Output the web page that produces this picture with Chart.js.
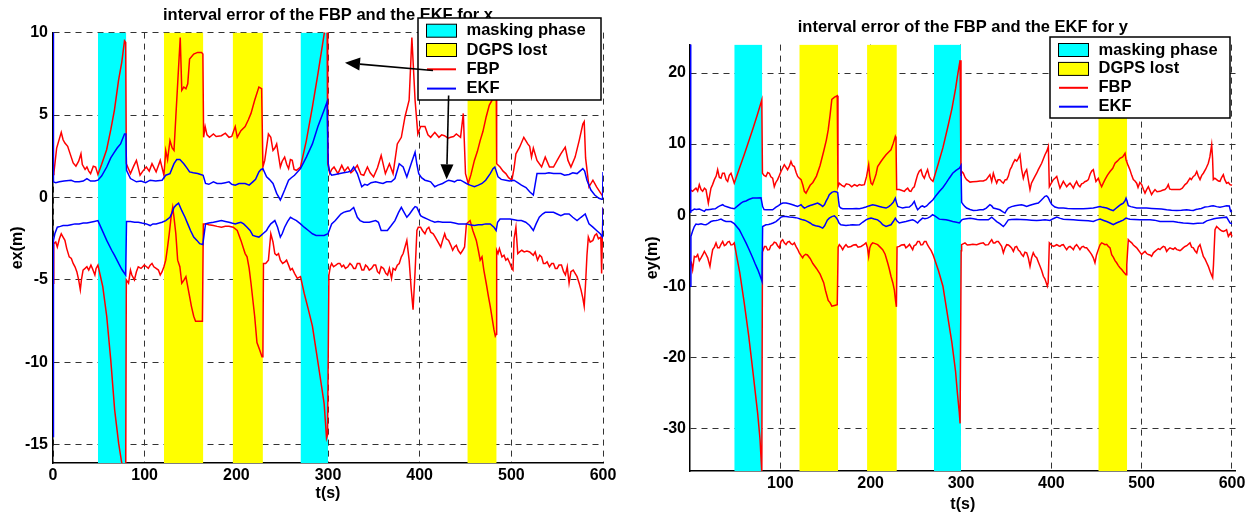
<!DOCTYPE html>
<html><head><meta charset="utf-8">
<script src="https://cdn.jsdelivr.net/npm/chart.js@4"></script>
<style>
html,body{margin:0;padding:0;background:#fff;width:1255px;height:515px;overflow:hidden}
canvas{position:absolute;top:0}
#c1{left:0}
#c2{left:628px}
</style></head><body>
<canvas id="c1" width="627" height="515"></canvas>
<canvas id="c2" width="627" height="515"></canvas>
<script>
// ---------- data ----------
const timeTicksX = [0,100,200,300,400,500,600];
const timeTicksY = [100,200,300,400,500,600];
const exTicks = [-15,-10,-5,0,5,10];
const eyTicks = [-30,-20,-10,0,10,20];
const maskingPhase = [[49,80],[270,300]];
const dgpsLost = [[121,164],[196,229],[452,484]];
const legendLabels = ['masking phase','DGPS lost','FBP','EKF'];
const titleX = 'interval error of the FBP and the EKF for x';
const titleY = 'interval error of the FBP and the EKF for y';

const xFbpUp = [[0,1.4],[1,1.5],[4,3.0],[9,3.95],[11,3.5],[13,3.3],[16,3.1],[19,2.6],[22,2.1],[25,1.9],[28,2.2],[30.5,2.65],[32,2.0],[35,1.7],[37,1.85],[39,1.6],[41,1.45],[44,1.9],[46.5,1.85],[49,1.4],
[53,2.0],[58.5,2.9],[63,4.1],[67,5.3],[71.5,7.1],[75,8.2],[78,9.5],[79.3,9.4],[80,2.05],[84.5,1.45],[88,1.9],[91,2.25],[95,1.35],[98,1.6],[101.8,1.85],[105,1.6],[108,2.05],[112.5,1.55],[117,2.25],[121,1.35],
[123,2.85],[125,2.3],[127.6,3.45],[130,3.0],[132,2.85],[134,4.9],[136,6.9],[138.8,9.7],[140.5,6.5],[142.7,6.7],[145,6.6],[147,6.9],[149,8.4],[153.5,8.7],[157.8,8.8],[162,8.8],[163.5,8.7],[164.3,3.65],
[166,4.3],[168,3.8],[170.7,3.65],[175,3.85],[178,3.7],[183.7,3.75],[188,3.9],[192,3.65],[195,3.7],[198.8,4.3],[201,3.65],[205,4.05],[209.6,4.3],[213,4.7],[216,5.1],[220,5.9],[224.6,6.7],[227.6,6.6],[229,1.85],
[231,2.25],[235,3.85],[237.6,3.65],[240,2.85],[242,3.0],[244,3.25],[248,1.85],[250,2.2],[252.7,2.45],[255,2.0],[257,1.75],[259,2.3],[261,2.25],[263,1.7],[265.6,1.65],[270,1.85],
[276.4,3.45],[283,5.5],[289,7.5],[295.8,9.9],[299,10.8],[299.7,2.05],
[302,1.45],[304,1.7],[306.6,1.85],[310.9,1.45],[315,1.95],[318,1.6],[321.7,1.85],[325,1.5],[328,1.65],[332,1.95],[336,1.4],[339,1.35],[343,1.85],[346,1.5],[349.7,1.25],[354,1.8],[358,2.55],[362.6,1.45],[367,2.05],[371,1.45],[375.6,3.25],[380,3.65],[384,4.9],[388.5,5.9],[391.5,9.7],[395,5.9],[398,3.85],[401,4.3],
[405.8,4.3],[409,3.8],[412,3.65],[416.5,3.95],[421,3.65],[424,3.8],[427,3.75],[431,3.6],[433.8,3.65],[437,3.7],[440,3.85],[444.6,3.65],[447.6,5.1],[450,1.45],
[453,0.85],[456,1.4],[459.7,2.25],[463,2.8],[466,3.45],[469,4.0],[472.6,4.9],[476,5.6],[479,5.9],[482,7.0],[483.5,6.9],[484,2.05],
[487.7,1.85],[491,1.6],[494,1.45],[497,1.2],[500.6,1.05],[503,1.8],[505,2.65],[509,3.05],[513.6,3.65],[517.9,3.25],[520,3.1],[522,2.45],[524,3.0],[528,2.25],[533,1.85],[537,2.45],[541.6,1.85],[546,1.85],[550,2.25],[554,2.65],[558.8,3.05],[561.8,2.25],[565,1.85],[569.6,2.45],[574,3.45],[578,4.45],[579.5,4.6],[581,2.4],[584.7,0.65],[589,1.05],[593,0.65],[597.6,0.25],[599.5,0.1],[600,0.0]];

const xFbpLo = [[0,-5.2],[0.8,-2.8],[3,-2.7],[4.7,-3.0],[7,-2.5],[9,-2.2],[11,-2.4],[13,-2.6],[15,-3.1],[17.7,-3.6],[20,-3.7],[22,-4.0],[24,-4.2],[26,-4.5],[28,-5.0],[29.8,-5.6],[31,-5.0],[32.8,-4.4],[35,-4.3],[37,-4.2],[39,-4.4],[41.4,-4.1],[43,-4.3],[45.7,-4.7],[47,-4.3],[49,-4.1],
[54.3,-5.4],[58.6,-7.2],[63,-9.85],[67.3,-12.9],[71.6,-14.9],[75,-16.1],[78,-17],[79.3,-17],[80,-5.0],[82.4,-5.2],[84.5,-4.4],[86,-4.7],[88.8,-5.0],[91,-4.5],[93,-4.2],[96,-4.3],[99.6,-4.1],[102,-4.2],[104,-4.3],[106,-4.1],[108,-4.0],[110,-4.2],[112.5,-4.3],[115,-4.4],[117,-4.7],[119,-4.5],[121,-4.2],
[123,-3.8],[125,-3.0],[126.8,-2.2],[128.8,-1.2],[130.6,-0.6],[132,-1.2],[134,-2.2],[136,-3.8],[138.4,-4.2],[140.5,-5.2],[143,-5.0],[145,-4.8],[147,-5.4],[149,-6.0],[151,-6.6],[153.5,-7.2],[155.5,-7.5],[157.8,-7.5],[160,-7.5],[163,-7.5],[164,-1.6],
[166.4,-1.6],[170,-1.65],[175,-1.7],[179,-1.75],[183.7,-1.8],[188,-1.75],[192,-1.75],[196.6,-1.8],[201,-2.0],[205,-2.6],[209.6,-3.4],[211.7,-3.6],[214,-4.3],[216,-5.2],[218,-6.2],[220,-7.2],[222.5,-8.8],[225.5,-9.25],[228,-9.65],[229,-9.5],[229.6,-4.0],[232,-4.0],[235,-3.8],[237.6,-2.2],[240,-2.7],[242,-3.4],[244,-3.5],[246,-3.4],[248,-3.8],[250.5,-4.0],[253,-3.9],[254.8,-3.8],[257,-4.1],[259,-4.4],[261,-4.3],[263.5,-4.6],[266.5,-4.9],[270,-4.8],
[274,-5.8],[278.6,-6.8],[283,-7.8],[287,-9.25],[291.5,-10.9],[295.8,-12.5],[298.4,-14.6],[299.5,-14.4],[301,-4.7],[302.5,-4.2],[304,-4.0],[306,-4.2],[308.6,-4.1],[311,-4.0],[313,-4.0],[315,-4.2],[317,-4.1],[319,-4.3],[321.7,-4.2],[324,-4.0],[326,-4.1],[328,-4.3],[330,-4.3],[332,-4.0],[334.6,-4.0],[337,-4.4],[339,-4.4],[341,-4.1],[343,-4.2],[345,-4.4],[347.5,-4.3],[350,-4.1],[352,-4.1],[354,-4.5],[356,-4.6],[358,-4.2],[360.6,-4.3],[363,-4.6],[365,-4.7],[367,-4.3],[369.3,-4.9],[371,-4.3],[373.4,-4.4],[375.6,-4.1],[377.7,-4.0],[380,-3.6],[382,-3.4],[384,-3.0],[386,-2.6],[388.5,-3.8],[390.7,-5.5],[392.8,-6.8],[395,-4.5],[397,-2.0],[398.5,-1.8],[401,-1.8],[403,-2.0],[405.8,-2.2],[408,-1.9],[410,-1.8],[412,-2.1],[414.8,-2.2],[417,-2.4],[419,-2.6],[421,-2.8],[423,-3.0],[425,-2.6],[427.3,-2.2],[429,-2.5],[431.6,-2.6],[434,-2.9],[436,-3.2],[438,-3.0],[440,-2.9],[442,-3.2],[444.6,-3.4],[447,-3.2],[449,-3.0],[451,-1.6],[453,-1.5],[455,-1.4],[458,-2.0],[461.8,-2.6],[464,-3.2],[466,-3.8],[468,-3.6],[470,-4.4],[472.6,-5.2],[475,-6.0],[477,-6.6],[479,-7.3],[481,-8.0],[482.5,-8.4],[483.4,-8.3],[484,-3.2],[485.5,-3.4],[487,-3.1],[489.8,-3.6],[492,-3.5],[494,-3.8],[496,-3.7],[498.5,-4.0],[500.5,-4.3],[501.8,-4.4],[503,-2.5],[505,-1.8],[507,-3.4],[509,-3.3],[511.4,-3.2],[514,-3.3],[517,-3.25],[520,-3.3],[522,-3.4],[524,-3.5],[526,-3.3],[528.6,-3.8],[531,-3.5],[533,-3.6],[535,-4.0],[537,-4.0],[539,-3.9],[541.6,-4.2],[544,-4.0],[546,-4.0],[548,-4.3],[550,-4.3],[552,-4.1],[554.7,-4.1],[557,-4.5],[559,-4.7],[561,-4.2],[563,-5.2],[565,-4.5],[567.5,-4.4],[569.6,-4.6],[571.7,-4.8],[574,-5.2],[576,-5.6],[578,-6.1],[579.5,-6.6],[581,-5.2],[582.5,-3.5],[584,-2.4],[586,-2.7],[589,-2.6],[591,-2.3],[593,-2.2],[595,-2.5],[597.6,-2.4],[598.5,-4.6],[600,-0.6]];

const xEkfUp = [[0,12],[0.5,0.95],[3,0.9],[6.9,0.95],[12,1.0],[19.8,1.05],[24,0.95],[28.5,0.95],[33,1.0],[37,1.15],[41,1.0],[45.7,1.0],[49,1.05],
[53,1.3],[58.6,1.85],[63,2.4],[67,2.75],[70,3.0],[73.7,3.25],[78,3.85],[79.5,3.85],[80.2,1.65],[84.5,1.15],[91,0.95],[96,1.0],[101,0.9],[106,1.05],[112,1.0],[119,1.05],[123,1.35],[127.6,1.45],[132,2.05],[135,2.3],[138.4,2.3],[142.7,2.05],[146,1.8],[149,1.55],[153,1.5],[157.8,1.45],[161,1.4],[163.8,1.35],[166.4,0.85],[170,0.8],[175,0.95],[179,0.85],[183.7,0.85],[188,0.9],[192,0.95],[195,0.8],[198.8,0.75],[203,0.85],[209.6,0.85],[214,0.75],[218,0.95],[221,1.1],[224.6,1.55],[227,1.7],[229,1.75],[233,1.25],[236,1.1],[240,0.85],[244,0.25],[248,-0.15],[250,0.1],[252.7,0.45],[257,1.05],[260,1.2],[263.5,1.35],[270,1.75],
[276.4,2.45],[283,3.25],[289,4.3],[295.8,5.3],[299,5.8],[300.3,2.05],[302,1.5],[304,1.35],[308,1.4],[313,1.45],[317,1.5],[321.7,1.55],[325,1.6],[328,1.85],[332,1.45],[336.8,0.65],[340,0.8],[343,0.75],[347,0.9],[352,0.95],[356,0.9],[360,0.85],[364,0.95],[369,0.95],[373,1.15],[377.7,2.05],[382,1.85],[386,1.25],[390.7,2.05],[395,2.75],[397,2.0],[399,1.45],[402,1.2],[405.8,1.05],[409,1.0],[412,0.95],[416.5,0.65],[420,0.75],[425,0.85],[428,0.95],[431.6,1.05],[435,1.0],[438,0.95],[441,1.05],[444.6,1.05],[448,0.95],[451,0.85],[455,0.75],[459.7,0.65],[464,0.75],[468,0.85],[472,1.05],[477,1.45],[480,1.75],[482,1.85],[485.5,1.25],[489,1.1],[494,1.05],[498,1.0],[502.8,1.05],[507,0.9],[511,0.75],[516,0.6],[520,0.35],[524,0.15],[528,1.45],[532,1.45],[537,1.45],[541,1.5],[546,1.45],[550,1.45],[554,1.45],[558,1.35],[563,1.4],[567,1.5],[571.7,1.45],[578,1.75],[580,1.6],[582.5,1.05],[586.8,0.45],[591,0.15],[595.5,-0.05],[598.5,-0.1],[599.5,-0.1],[600,1.55]];

const xEkfLo = [[0,-14.5],[0.5,-2.6],[2,-2.2],[4.7,-1.8],[8,-1.75],[11,-1.7],[16,-1.7],[19.8,-1.65],[24,-1.6],[28.5,-1.6],[33,-1.55],[37,-1.55],[41,-1.5],[45,-1.45],[49,-1.4],
[53,-1.9],[58.6,-2.6],[64,-3.2],[67,-3.5],[71.6,-4.0],[75,-4.35],[79.3,-4.7],[80.2,-1.45],[84.5,-1.45],[89,-1.5],[93,-1.5],[97,-1.55],[101.8,-1.6],[106,-1.7],[109,-1.6],[112.5,-1.6],[116,-1.55],[119,-1.5],[123,-1.4],[127.6,-1.2],[130,-0.9],[132,-0.6],[134.5,-0.45],[137,-0.35],[140.5,-0.8],[144,-1.2],[147,-1.6],[150,-2.0],[153.5,-2.4],[157,-2.6],[160,-2.8],[163.4,-2.85],[166.4,-1.6],[170,-1.55],[175,-1.5],[179,-1.45],[183.7,-1.4],[188,-1.45],[192,-1.5],[195,-1.55],[198.8,-1.6],[202,-1.55],[205,-1.5],[208,-1.6],[211.7,-1.8],[215,-2.0],[218,-2.3],[221,-2.35],[224.6,-2.4],[227,-2.3],[229,-2.2],[233,-2.0],[235,-1.8],[237.6,-1.6],[242,-1.4],[245,-1.8],[248,-2.4],[250,-2.2],[252.7,-1.8],[256,-1.45],[259,-1.2],[262,-1.3],[265.6,-1.4],[270,-1.6],[274,-1.8],[278.6,-2.0],[283,-2.2],[287,-2.3],[291,-2.3],[295.8,-2.3],[300,-2.2],[304,-1.6],[308,-1.4],[311,-1.2],[314,-1.0],[317,-0.9],[320,-0.85],[323.8,-0.8],[328,-0.6],[332,-1.2],[335,-1.4],[339,-1.5],[345,-1.5],[352,-1.4],[355,-1.5],[358,-2.0],[361,-2.0],[364.8,-2.0],[369,-1.7],[373,-1.4],[377,-0.9],[380,-0.6],[383,-0.9],[386,-1.2],[389,-1.0],[392.8,-0.7],[395,-0.55],[397,-0.6],[401,-1.1],[404,-1.2],[407.9,-1.3],[412,-1.4],[416.5,-1.5],[420,-1.45],[425,-1.5],[429,-1.5],[433.8,-1.5],[438,-1.55],[442.4,-1.6],[446,-1.6],[451,-1.6],[455,-1.65],[459.7,-1.7],[464,-1.65],[468,-1.65],[472,-1.6],[477,-1.6],[481,-1.8],[483.4,-2.0],[485,-1.5],[487.7,-1.3],[493,-1.3],[498.5,-1.3],[503,-1.35],[507,-1.4],[511,-1.4],[515.7,-1.5],[520,-1.7],[524,-2.0],[527,-1.6],[530.5,-1.2],[534,-1.0],[537,-0.9],[541,-0.9],[546,-0.9],[550,-1.0],[554,-1.1],[558,-1.0],[563,-1.0],[567,-1.2],[571.7,-1.4],[576,-1.2],[580.6,-1.0],[584.7,-1.6],[589,-1.8],[593,-2.0],[597,-2.2],[599.5,-2.4],[600,-0.6]];

const yFbpUp = [[0,3.6],[2.9,3.35],[4.8,3.6],[6.6,3.8],[8.5,3.4],[10.3,4.3],[12.2,3.6],[14,3.35],[16,3.8],[17.7,3.6],[20.3,1.7],[23.2,3.8],[25,4.3],[27,5.0],[29,5.5],[30.6,6.4],[32.5,5.3],[34.3,5.2],[36,5.9],[38,5.9],[40,5.0],[41.7,4.75],[43.5,5.6],[45.4,5.9],[47,5.3],[49,4.5],
[55,6.7],[60,8.5],[65,10.4],[70,12.3],[75,14.3],[79.5,16.2],[80.2,5.9],[82,5.6],[84.1,5.45],[86,6.0],[87.8,5.9],[89.5,5.4],[91.5,5.2],[93.3,4.0],[95,4.6],[97,5.0],[99,5.6],[100.7,6.15],[102.5,6.6],[104.4,7.1],[106,6.8],[108,6.4],[110,6.9],[111.8,7.55],[113.5,7.0],[115.5,6.85],[117.5,6.0],[119.2,5.45],[121,5.2],[123,5.0],[125,4.2],[126.6,3.35],[128.4,3.1],[130,3.5],[133,4.2],[136,4.6],[140,5.5],[144,7.0],[148,9.0],[151,10.6],[153,12.0],[155,14.0],[157,16.3],[160,16.6],[163,16.8],[163.8,4.0],[165.3,4.5],[168,4.2],[170.8,4.0],[173,4.4],[176.4,4.3],[179,4.0],[182,4.3],[185,4.1],[187.4,4.3],[190,4.2],[193,4.3],[195.5,5.45],[197.8,7.1],[199,5.5],[200.4,4.5],[202,4.3],[204,5.0],[206,5.8],[207.7,6.85],[209.6,7.2],[211.4,7.55],[214,8.0],[217,8.5],[220,8.9],[222.5,9.2],[225,10.1],[227.3,11.06],[228,10.8],[228.8,3.6],[231.7,3.6],[234,3.5],[237.3,3.35],[239,3.6],[241,3.8],[243,3.4],[244.6,3.35],[246.5,3.8],[248.3,4.0],[250,4.8],[252,5.7],[253.8,6.2],[255.7,6.4],[257.5,5.6],[259.4,5.2],[261,5.8],[263,6.4],[265,5.4],[266.8,5.0],[269,4.75],
[275,7.3],[280,9.5],[285,12.2],[290,15.0],[294,17.8],[296,19.5],[299,21.8],[300,5.5],[300.7,6.15],[302.6,5.9],[304.5,5.3],[306.3,5.0],[310,4.65],[313,4.7],[317.4,4.75],[321,4.8],[324.7,4.8],[328,5.0],[332,5.7],[334,4.75],[335.8,5.9],[337.5,5.2],[339.5,4.5],[341,5.0],[343,5.0],[345,4.7],[346.9,4.5],[349,5.0],[350.6,5.0],[352.5,5.5],[354.3,6.4],[356,6.8],[358,7.4],[359.8,7.8],[361.7,7.6],[363.5,8.0],[365.3,8.5],[367,6.5],[369,5.2],[370.8,6.0],[372.7,6.4],[374.5,5.0],[376.4,3.6],[378,4.5],[380,5.0],[382,5.5],[383.8,5.9],[385.6,6.4],[389.3,7.3],[393,8.5],[395,9.0],[396.7,9.66],[397.8,4.0],[400,4.5],[402.2,5.0],[404,5.2],[406,5.45],[408,4.5],[409.6,3.8],[411.5,4.3],[413.3,4.75],[415,4.4],[417,4.0],[419,4.3],[420.7,4.5],[422.5,4.2],[424.4,3.8],[426,4.3],[428,4.75],[430,4.2],[431.7,4.0],[433.5,4.4],[435.4,4.5],[437,4.7],[439,4.8],[441,5.0],[443,5.8],[444.7,6.2],[446.5,6.4],[448,5.5],[449.4,4.75],[452,5.2],[454,4.5],[455.7,4.0],[457.5,4.5],[459.4,5.0],[462,5.6],[465,6.15],[468,6.6],[470.5,7.3],[473,7.6],[476,8.0],[479,8.2],[481.6,8.7],[482.7,7.8],[483.4,7.55],[485,7.0],[487,6.4],[489,5.6],[490.8,5.0],[492.6,4.8],[494.5,4.5],[496,3.9],[498,4.6],[500,4.3],[502,3.6],[503.7,3.1],[505.5,3.6],[507.4,4.0],[509,3.5],[511,2.9],[513,3.3],[514.8,3.6],[517,3.3],[520.3,3.35],[523,3.5],[525.8,3.6],[528,3.9],[529.5,4.3],[531,3.7],[533,3.6],[535,3.6],[538,3.6],[542.4,3.6],[545,3.8],[548,4.3],[550,4.5],[553.5,5.2],[555,5.0],[557.2,5.45],[559,5.6],[561,6.15],[562.7,5.5],[564.6,5.0],[566.5,5.6],[568.3,5.9],[571,6.5],[573.8,7.3],[575.5,8.2],[577.5,9.9],[578.5,8.0],[579.3,5.0],[581,5.2],[583,5.0],[585,4.8],[586.7,4.75],[588.5,5.3],[590.4,5.7],[592,5.0],[594,4.5],[596,4.6],[597.8,4.3],[600,4.2]];

const yFbpLo = [[0,-7.0],[1.5,-6.7],[2.9,-7.66],[4.8,-5.8],[6.6,-5.9],[8.5,-5.55],[10.3,-6.4],[12.2,-6.0],[14,-5.6],[15.9,-5.1],[17.7,-5.5],[19.6,-6.0],[22.1,-7.2],[23.5,-6.0],[25.1,-4.85],[27,-4.5],[28.8,-3.9],[30.6,-4.6],[32.5,-4.6],[34.3,-4.1],[36.2,-3.7],[38,-4.3],[39.8,-4.15],[41.7,-3.8],[43.5,-3.7],[45.4,-4.2],[47.2,-4.15],[49,-3.9],
[52,-6.0],[55,-8.0],[60,-12.3],[65,-17],[70,-22.4],[75,-28],[77.5,-31.5],[79.5,-36.2],[80.2,-5.2],[81.2,-4.85],[82.5,-4.4],[84.1,-4.4],[86,-4.9],[87.8,-4.85],[89.5,-4.3],[91.5,-4.15],[93.3,-3.8],[95.2,-3.9],[97,-4.3],[98.9,-4.6],[100.7,-3.7],[102.6,-3.45],[104.4,-3.9],[106.3,-4.15],[108,-3.8],[110,-3.7],[111.8,-4.0],[113.6,-4.15],[115.5,-3.9],[117.3,-4.4],[119.2,-4.8],[121,-5.3],[123,-5.7],[124.7,-6.0],[126,-5.7],[128,-5.5],[130,-5.6],[133,-6.1],[136,-6.8],[140,-7.5],[144,-8.3],[148,-9.5],[150,-10.6],[153,-12.0],[155,-12.3],[157,-12.8],[160,-12.7],[163,-12.6],[164,-4.5],[165.3,-4.15],[167,-4.4],[169,-4.85],[171,-4.4],[172.7,-4.15],[175,-4.5],[178.2,-4.4],[181,-4.2],[183.8,-4.15],[186,-4.5],[189.3,-4.4],[192,-4.2],[194.8,-3.9],[196.5,-4.6],[197.8,-5.8],[199,-4.6],[200.4,-4.15],[202.2,-3.9],[205,-4.0],[207.7,-4.15],[210.5,-4.5],[213.3,-4.85],[216,-5.5],[218.8,-6.7],[220.5,-7.5],[222.5,-8.6],[224.5,-9.5],[226.2,-10.5],[227.5,-12.0],[228.5,-12.9],[229.2,-4.5],[231.7,-4.4],[234,-4.2],[237.3,-4.15],[239,-4.6],[241,-4.4],[243,-4.1],[246.5,-4.85],[248,-4.3],[250.2,-4.15],[252,-3.7],[253.9,-3.7],[255.7,-4.2],[257.6,-4.15],[259.5,-3.7],[261.3,-3.7],[263,-4.2],[265,-4.6],[267,-5.0],[269,-5.55],
[275,-7.8],[280,-10],[285,-14],[290,-18],[294,-22],[296,-25],[298,-27.6],[299,-29.3],[299.6,-29.3],[300.2,-5.0],[300.7,-4.15],[304.4,-3.9],[307,-4.2],[310,-4.15],[313,-4.1],[317.4,-4.15],[321,-4.0],[324.7,-3.9],[327,-4.2],[330.3,-4.15],[332,-3.8],[334,-3.45],[335.8,-3.9],[337.6,-3.9],[339.5,-3.7],[341.3,-3.7],[343,-4.0],[345,-4.4],[346.9,-5.3],[348.7,-4.6],[350.6,-4.15],[352.5,-4.2],[354.3,-4.4],[356,-4.6],[358,-5.1],[359.8,-4.5],[361.6,-4.4],[363.5,-4.9],[365.3,-5.1],[367,-5.5],[369,-5.8],[370.8,-5.2],[372.7,-5.3],[374.5,-6.0],[376.4,-7.2],[378.2,-6.0],[380,-5.3],[382,-5.8],[383.8,-6.0],[385.6,-6.6],[387.5,-7.2],[389.3,-7.8],[391.2,-8.6],[393,-9.0],[395.6,-10.0],[396.5,-9.5],[397.8,-3.9],[400,-4.2],[402.2,-4.4],[404,-4.3],[406,-4.15],[408,-4.3],[409.6,-4.4],[411.5,-4.2],[413.3,-4.15],[415,-4.5],[417,-4.85],[419,-4.5],[420.7,-4.4],[422.5,-4.6],[424.4,-4.85],[426,-4.4],[428,-4.15],[430,-4.5],[431.7,-4.85],[433.5,-4.5],[435.4,-4.4],[437.3,-4.6],[439.1,-4.6],[441,-4.9],[442.8,-5.2],[444.7,-5.55],[446.5,-6.0],[448.3,-6.7],[450,-5.6],[452,-4.85],[453.8,-4.2],[455.7,-3.9],[457.5,-4.0],[459.4,-4.15],[461.3,-4.1],[463.1,-4.4],[465,-4.6],[466.8,-5.55],[468.6,-5.9],[470.5,-6.4],[472.3,-6.7],[474.2,-7.1],[476,-7.4],[477.9,-7.66],[480,-8.0],[482.7,-8.4],[483.5,-7.0],[485.2,-3.45],[487,-3.7],[489,-3.9],[490.8,-4.2],[492.6,-4.4],[494.5,-4.6],[496.3,-4.9],[498,-5.2],[500,-5.55],[501.8,-5.3],[503.7,-5.1],[505.5,-5.4],[507.4,-5.55],[509.2,-5.6],[511,-5.8],[513,-5.3],[514.8,-5.1],[516.6,-4.9],[518.5,-4.7],[520.3,-4.85],[522,-4.6],[524,-4.4],[525.8,-4.5],[527.7,-5.1],[529.5,-4.8],[531.4,-4.6],[533,-4.7],[535,-4.8],[536.9,-4.6],[539,-4.85],[540.6,-4.9],[542.4,-5.0],[544,-4.85],[546,-4.6],[548,-4.4],[550,-4.3],[551.7,-4.1],[553.5,-3.9],[555.3,-4.5],[557.2,-4.6],[559,-5.0],[561,-5.3],[562.7,-4.5],[564.6,-4.15],[566.5,-5.0],[568.3,-5.8],[570.2,-6.2],[572,-6.7],[573.8,-7.2],[575.7,-7.9],[577.5,-8.5],[578.6,-8.8],[579.5,-7],[581.2,-2.05],[583,-1.6],[584.8,-1.8],[586.7,-2.05],[588.5,-2.2],[590.4,-2.3],[592.2,-2.2],[594,-2.05],[596,-3.0],[598.5,-2.5],[600,-3.0]];

const yEkfUp = [[0,30],[0.5,0.3],[1.1,0.53],[3,0.7],[4.8,0.86],[7,0.8],[10.3,0.86],[13,0.7],[15.9,0.53],[17.7,0.8],[19.6,0.76],[22,0.8],[25.1,0.86],[28,0.9],[30.6,1.14],[33,1.3],[36.2,1.47],[38,1.3],[41.7,1.14],[45,1.0],[49,0.9],
[52.8,1.3],[56.5,1.7],[59,1.9],[62,2.0],[65,2.2],[69.4,2.4],[74,2.4],[78.6,2.45],[80.4,1.2],[82,0.8],[84.1,0.76],[88,0.76],[91.5,0.76],[95.2,1.14],[98,1.35],[100.7,1.6],[103,1.7],[106.3,1.7],[110,1.6],[113.6,1.47],[116,1.35],[119,1.23],[121,1.35],[122.9,1.47],[124.8,1.2],[126.6,1.0],[128.4,1.1],[130.3,1.23],[133,1.35],[135.8,1.47],[139,1.6],[141.3,1.7],[144,1.5],[146.9,1.23],[149,1.5],[150.5,1.94],[152.5,2.4],[154.2,2.87],[157,3.2],[159.8,3.34],[161.5,3.3],[163.5,3.2],[164.5,2.0],[165.3,1.23],[167,1.0],[169,0.9],[174,0.9],[180,0.9],[184,0.95],[187.5,0.9],[191,1.0],[194.8,1.14],[198,1.3],[202.2,1.47],[206,1.35],[209.6,1.23],[213,1.1],[217,1.0],[220,1.2],[222.5,1.47],[225,1.8],[227.3,2.4],[228.5,1.8],[230,1.23],[233,1.1],[235.4,1.0],[239,1.1],[242.8,1.14],[246,1.5],[248.3,1.94],[250,1.3],[252,0.76],[254,1.0],[255.7,1.23],[257.5,1.3],[259.4,1.14],[262,1.3],[265,1.7],[269,2.17],
[272,2.7],[276,3.34],[280,3.9],[283.4,4.5],[287,5.2],[290.8,5.9],[294.5,6.3],[298.2,6.6],[300,7.0],[300.7,1.8],[302.6,1.47],[304.5,1.2],[306.3,1.0],[310,0.8],[313.7,0.67],[318,0.7],[321,0.75],[324.7,0.76],[328,1.0],[332,1.47],[334,1.3],[335.8,1.0],[339,0.9],[343,0.76],[346,0.5],[348.7,0.3],[350.5,0.7],[352.4,1.0],[356,1.2],[359.8,1.33],[363,1.4],[367,1.47],[370,1.35],[372.7,1.23],[375.5,1.35],[378.2,1.47],[382,1.6],[385.6,1.7],[388,2.0],[391.2,2.4],[393,2.65],[394.8,2.73],[396.5,2.5],[398.5,1.94],[400.5,1.5],[404,1.14],[408,1.0],[413.3,1.0],[418,0.95],[424.4,0.9],[430,0.9],[435.4,0.9],[440,0.95],[446.5,1.0],[450,1.1],[454,1.23],[457,1.1],[461.3,1.0],[465,0.8],[468.6,0.63],[471,0.9],[474.2,1.23],[477,1.5],[479.7,1.7],[481.5,2.0],[482.7,2.4],[483.8,2.0],[485.2,1.33],[488,1.2],[494.5,1.0],[500,1.0],[505.5,1.0],[511,0.95],[516.6,0.9],[522,0.85],[527.7,0.76],[533,0.7],[538.8,0.67],[544,0.7],[549.8,0.76],[554,0.7],[557.2,0.67],[560,0.8],[562.7,0.86],[566,0.95],[570,1.14],[574,1.2],[577,1.3],[579.3,1.33],[583,1.2],[586.7,1.1],[590,1.2],[594,1.33],[597,1.3],[598.5,0.53],[600,0.6]];

const yEkfLo = [[0,-10],[1,-3.0],[3,-2.2],[4.8,-1.6],[6.6,-1.26],[9,-1.3],[12.2,-1.2],[15,-1.3],[17.7,-1.35],[20,-1.2],[23.2,-0.9],[26,-0.8],[28.8,-0.75],[31,-0.7],[34.3,-0.55],[37,-0.75],[39.8,-0.9],[43,-0.9],[45.4,-0.9],[49,-1.2],
[54.6,-2.05],[58,-2.9],[62,-3.9],[66,-5.0],[69.4,-6.0],[72,-6.8],[75,-7.66],[77.5,-8.5],[79.7,-9.3],[80.4,-1.6],[84.1,-1.35],[87,-1.3],[89.7,-1.2],[92,-1.1],[95.2,-0.9],[98,-0.6],[100.7,-0.28],[103,-0.2],[106.3,-0.2],[110,-0.25],[113.6,-0.28],[117,-0.35],[119.2,-0.42],[122,-0.55],[124.8,-0.66],[127,-0.7],[130.3,-0.9],[133,-1.1],[135.8,-1.35],[139,-1.5],[143.2,-1.6],[146.9,-1.83],[149,-1.5],[150.5,-1.1],[152,-0.7],[154.2,-0.42],[157,-0.2],[159.8,-0.1],[161.5,-0.3],[163.5,-0.66],[165,-1.1],[167,-1.35],[172.7,-1.45],[177,-1.4],[180,-1.35],[184,-1.4],[187.5,-1.35],[191,-1.0],[194.8,-0.66],[197.5,-0.5],[200.4,-0.42],[204,-0.55],[207.7,-0.66],[211,-1.0],[213.3,-1.35],[217,-1.6],[220,-1.45],[222.5,-1.35],[225,-0.9],[227.3,-0.42],[229,-0.8],[231.7,-1.1],[235,-1.0],[239,-0.9],[242,-0.8],[246.5,-0.66],[249,-0.8],[252,-1.1],[254,-0.8],[257.5,-0.42],[260,-0.5],[263,-0.42],[266,-0.2],[268.6,0.06],[271,-0.1],[276,-0.56],[280,-0.6],[283.4,-0.66],[287,-0.75],[290.8,-0.9],[295,-1.0],[298.2,-1.1],[301,-0.66],[302.6,-0.56],[306,-0.5],[310,-0.42],[314,-0.5],[318,-0.6],[321,-0.66],[325,-0.66],[330.3,-0.66],[334,-0.28],[336,-0.5],[339.5,-0.9],[343,-1.2],[346.9,-1.6],[349,-1.3],[352.4,-0.66],[356,-0.6],[361.6,-0.56],[366,-0.6],[372.7,-0.66],[378,-0.7],[383.8,-0.75],[388,-0.7],[393,-0.66],[398.5,-0.75],[402,-0.5],[406,-0.28],[410,-0.45],[413.3,-0.56],[418,-0.6],[424.4,-0.66],[430,-0.7],[435.4,-0.75],[441,-0.8],[446.5,-0.9],[450,-0.7],[454,-0.56],[458,-0.75],[461.3,-0.9],[465,-1.1],[468.6,-1.35],[472,-1.1],[476,-0.9],[479.5,-0.7],[482.7,-0.42],[485,-0.5],[487,-0.56],[492,-0.6],[498,-0.66],[503,-0.66],[509.2,-0.66],[514,-0.7],[520.3,-0.9],[527,-0.9],[535,-0.9],[540,-1.0],[546.1,-1.1],[551,-1.15],[557.2,-1.2],[562,-1.15],[568.3,-1.1],[572,-0.8],[575.7,-0.66],[580,-0.5],[583,-0.42],[588,-0.35],[594,-0.28],[597.8,-1.1],[600,-1.2]];

// arrows (data coordinates of the left panel)
const arrowsX = [
  {from:[414.5,7.7], to:[318.5,8.17]},
  {from:[431.6,6.19], to:[429.4,1.1]}
];

// ---------- drawing ----------
const FONT = '"Liberation Sans", Arial, Helvetica, sans-serif';
Chart.defaults.font.family = FONT;
Chart.defaults.color = '#000';

const COLORS = {mask:'#00ffff', dgps:'#ffff00', fbp:'#ff0000', ekf:'#0000ff'};
const legendKinds = [['patch',COLORS.mask],['patch',COLORS.dgps],['line',COLORS.fbp],['line',COLORS.ekf]];

function shadeSets(intervals, color, top){
  return intervals.map(([a,b]) => ({
    data:[[a,top],[b,top]], fill:'start', backgroundColor:color,
    borderColor:'rgba(0,0,0,0)', borderWidth:0, pointRadius:0, order:3
  }));
}
function lineSet(data, color, order){
  return {data, borderColor:color, borderWidth:1.5, pointRadius:0, fill:false, tension:0, order};
}

function makeOverlay(cfg){
  return {
    id:'overlay',
    afterDraw(chart){
      const ctx = chart.ctx;
      const L = cfg.legend;
      ctx.save();
      ctx.fillStyle = '#fff'; ctx.strokeStyle = '#000'; ctx.lineWidth = 1.5;
      ctx.fillRect(L.x, L.y, L.w, L.h);
      ctx.strokeRect(L.x, L.y, L.w, L.h);
      ctx.font = 'bold 16.5px ' + FONT;
      ctx.textBaseline = 'middle';
      ctx.textAlign = 'left';
      legendLabels.forEach((lab, i) => {
        const cy = L.y + L.first + i * L.step;
        const [kind, col] = legendKinds[i];
        if (kind === 'patch') {
          ctx.fillStyle = col;
          ctx.fillRect(L.x + 8.5, cy - 6.5, 30, 13);
          ctx.lineWidth = 1; ctx.strokeStyle = '#000';
          ctx.strokeRect(L.x + 8.5, cy - 6.5, 30, 13);
        } else {
          ctx.strokeStyle = col; ctx.lineWidth = 2;
          ctx.beginPath(); ctx.moveTo(L.x + 9, cy); ctx.lineTo(L.x + 38, cy); ctx.stroke();
        }
        ctx.fillStyle = '#000';
        ctx.fillText(lab, L.x + 48.5, cy);
      });
      // arrows
      const xs = chart.scales.x, ys = chart.scales.y;
      (cfg.arrows || []).forEach(a => {
        const x1 = xs.getPixelForValue(a.from[0]), y1 = ys.getPixelForValue(a.from[1]);
        const x2 = xs.getPixelForValue(a.to[0]), y2 = ys.getPixelForValue(a.to[1]);
        const ang = Math.atan2(y2 - y1, x2 - x1);
        const hl = 15, hw = 6.5;
        const bx = x2 - hl * Math.cos(ang), by = y2 - hl * Math.sin(ang);
        ctx.strokeStyle = '#000'; ctx.lineWidth = 1.6;
        ctx.beginPath(); ctx.moveTo(x1, y1); ctx.lineTo(bx, by); ctx.stroke();
        ctx.fillStyle = '#000';
        ctx.beginPath();
        ctx.moveTo(x2, y2);
        ctx.lineTo(bx + hw * Math.sin(ang), by - hw * Math.cos(ang));
        ctx.lineTo(bx - hw * Math.sin(ang), by + hw * Math.cos(ang));
        ctx.closePath(); ctx.fill();
      });
      ctx.restore();
    }
  };
}

function makeChart(id, cfg){
  const tickFont = {size:16, weight:'bold'};
  const datasets = [
    ...shadeSets(maskingPhase, COLORS.mask, cfg.yMax),
    ...shadeSets(dgpsLost, COLORS.dgps, cfg.yMax),
    lineSet(cfg.fbpUp, COLORS.fbp, 2),
    lineSet(cfg.fbpLo, COLORS.fbp, 2),
    lineSet(cfg.ekfUp, COLORS.ekf, 1),
    lineSet(cfg.ekfLo, COLORS.ekf, 1)
  ];
  return new Chart(document.getElementById(id), {
    type:'line',
    data:{datasets},
    plugins:[makeOverlay(cfg)],
    options:{
      responsive:false, animation:false, events:[],
      layout:{padding:{left:0, right:cfg.padRight, top:0, bottom:0}},
      plugins:{
        legend:{display:false}, tooltip:{enabled:false},
        title:{display:true, text:cfg.title, fullSize:false, color:'#000',
               font:{size:16.5, weight:'bold'}, padding:{top:cfg.titleTop, bottom:cfg.titleBottom}}
      },
      scales:{
        x:{type:'linear', min:0, max:cfg.xMax,
           afterBuildTicks: ax => { ax.ticks = cfg.xTicks.map(v => ({value:v})); },
           afterFit: s => { s.height = cfg.xAxisH; },
           grid:{color:'#333', lineWidth:1, drawTicks:false},
           border:{display:true, color:'#000', width:1.5, dash:[6,5]},
           ticks:{padding:3, font:tickFont, color:'#000', maxRotation:0, autoSkip:false},
           title:{display:true, text:'t(s)', color:'#000', font:{size:16, weight:'bold'}, padding:{top:0, bottom:cfg.xTitlePad}}
        },
        y:{type:'linear', min:cfg.yMin, max:cfg.yMax,
           afterBuildTicks: ax => { ax.ticks = cfg.yTicks.map(v => ({value:v})); },
           afterFit: s => { s.width = cfg.yAxisW; },
           grid:{color:'#333', lineWidth:1, drawTicks:false},
           border:{display:true, color:'#000', width:1.5, dash:[6,5]},
           ticks:{padding:cfg.yTickPad, font:tickFont, color:'#000', autoSkip:false},
           title:{display:true, text:cfg.yTitle, color:'#000', font:{size:16, weight:'bold'}, padding:{top:cfg.yTitlePad, bottom:0}}
        }
      }
    }
  });
}

makeChart('c1', {
  title:titleX, yTitle:'ex(m)',
  fbpUp:xFbpUp, fbpLo:xFbpLo, ekfUp:xEkfUp, ekfLo:xEkfLo,
  xMax:600, yMin:-16.1, yMax:10, xTicks:timeTicksX, yTicks:exTicks,
  padRight:24, titleTop:5.7, titleBottom:7.1, xAxisH:52, yAxisW:53,
  xTitlePad:11.4, yTitlePad:8.4, yTickPad:5,
  legend:{x:418, y:18, w:183, h:82, first:12.7, step:19.3},
  arrows:arrowsX
});

makeChart('c2', {
  title:titleY, yTitle:'ey(m)',
  fbpUp:yFbpUp, fbpLo:yFbpLo, ekfUp:yEkfUp, ekfLo:yEkfLo,
  xMax:604, yMin:-36, yMax:24, xTicks:timeTicksY, yTicks:eyTicks,
  padRight:19.4, titleTop:17.1, titleBottom:7.7, xAxisH:44, yAxisW:62,
  xTitlePad:0.4, yTitlePad:15.4, yTickPad:4,
  legend:{x:422, y:37, w:180, h:81, first:13, step:18.9},
  arrows:[]
});
</script>
</body></html>
